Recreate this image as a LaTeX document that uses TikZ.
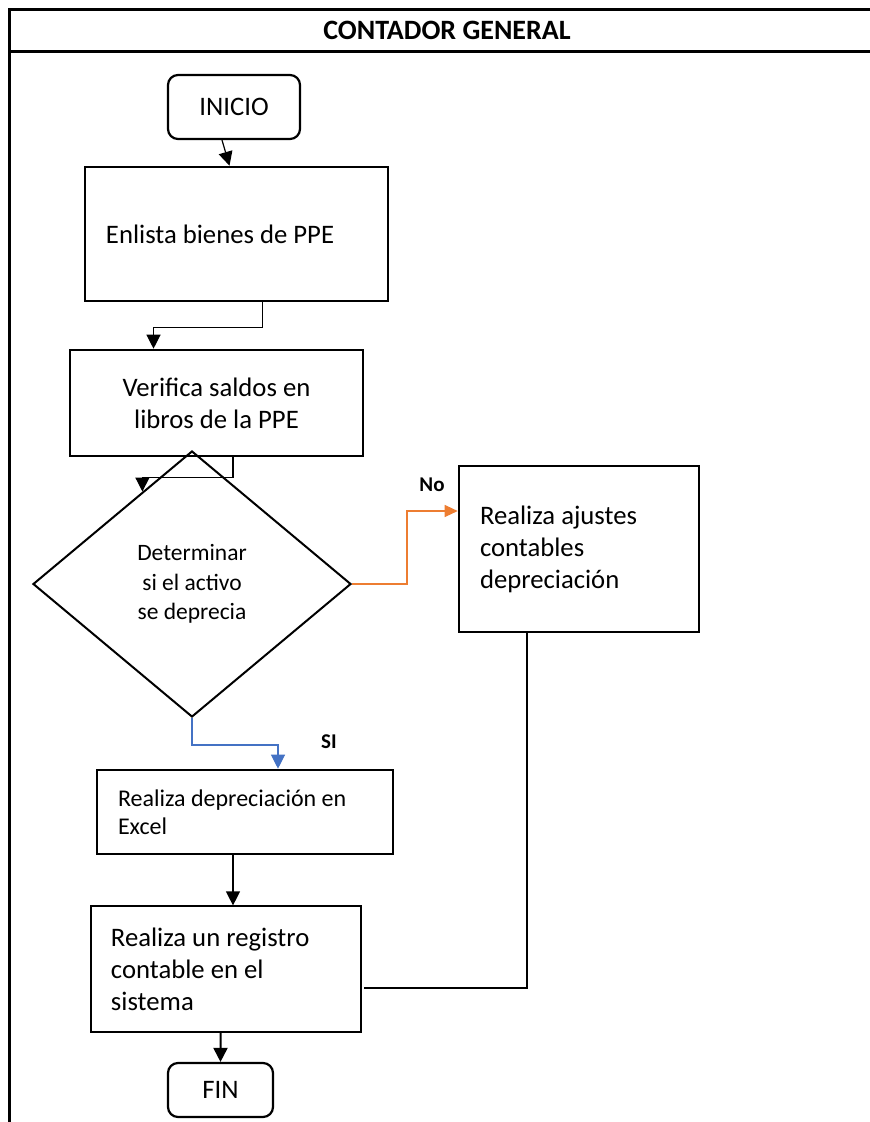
\documentclass[tikz,border=0pt]{standalone}
\usepackage{fontspec}
\setmainfont{Carlito}
\usetikzlibrary{shapes.geometric,arrows.meta,calc}
\definecolor{noorange}{HTML}{ED7D31}
\definecolor{siblue}{HTML}{4472C4}
\begin{document}
\begin{tikzpicture}[x=1bp,y=-1bp,
  every node/.style={inner sep=0pt},
  bodyfont/.style={font=\fontsize{26.7bp}{32bp}\selectfont},
  terminal/.style={draw, line width=2.2bp, rounded corners=10bp, bodyfont},
  procl/.style={draw, line width=2.6bp, align=flush left, inner xsep=21bp, bodyfont},
  procc/.style={draw, line width=2.6bp, align=flush center, bodyfont},
  decision/.style={draw, diamond, line width=2bp, align=flush center,
    font=\fontsize{23.5bp}{29.5bp}\selectfont},
  lbl/.style={font=\bfseries\fontsize{21bp}{24bp}\selectfont},
  conn/.style={line width=1.2bp},
  arr/.style={conn, -{Triangle[length=14bp,width=14bp]}},
]
\useasboundingbox (0,0) rectangle (870,1122);

% lane frame and header
\draw[line width=3bp] (870,9) -- (9,9) -- (9,1122);
\draw[line width=3bp] (9,51) -- (870,51);
\node[font=\bfseries\fontsize{28bp}{30bp}\selectfont] (title) at (447,30) {CONTADOR GENERAL};

% steps
\node[terminal, minimum width=132bp, minimum height=64bp] (inicio) at (234,107) {INICIO};
\node[procl, text width=261bp, minimum height=134bp] (enlista) at (236.5,234) {Enlista bienes de PPE};
\node[procc, text width=293bp, minimum height=106bp] (verifica) at (216.5,403) {Verifica saldos en\\libros de la PPE};
\node[decision, minimum width=318bp, minimum height=266bp] (decide) at (192,584) {Determinar\\si el activo\\se deprecia};
\node[procl, text width=198bp, minimum height=166bp] (ajustes) at (579,549) {Realiza ajustes\\contables\\depreciación};
\node[procl, text width=254bp, minimum height=84bp, font=\fontsize{24bp}{28bp}\selectfont] (excel) at (245,812) {Realiza depreciación en\\Excel};
\node[procl, line width=1.2bp, inner xsep=20bp, text width=230bp, minimum height=126bp] (registro) at (226,969) {Realiza un registro\\contable en el\\sistema};
\node[terminal, minimum width=105bp, minimum height=54bp] (fin) at (220.5,1090) {FIN};

% labels of the decision branches
\node[lbl] (nolbl) at (432,485) {No};
\node[lbl] (silbl) at (329,742) {SI};

% connectors
\draw[arr] ($(inicio.south)+(-12,0)$) -- ($(enlista.north)+(-7,0)$);
\draw[arr] ($(enlista.south)+(26,0)$) -- ++(0,25) -| ($(verifica.north)+(-63,0)$);
\draw[arr] ($(verifica.south)+(16.5,0)$) -- ++(0,20) -| ($(decide.north)!0.31!(decide.west)$);
\draw[arr, noorange, -{Triangle[length=13bp,width=12bp]}] (decide.east) -- ++(55,0) |- ($(ajustes.west)+(0,-38)$);
\draw[arr, siblue] (decide.south) -- ++(0,27) -| ($(excel.north)+(33,0)$);
\draw[arr] ($(excel.south)+(-12,0)$) -- ($(registro.north)+(7,0)$);
\draw[conn] ($(ajustes.south)+(-52,0)$) |- ($(registro.east)+(2,19)$);
\draw[arr, line width=2bp] ($(registro.south)+(-5.5,0)$) -- (fin.north);
\end{tikzpicture}
\end{document}
